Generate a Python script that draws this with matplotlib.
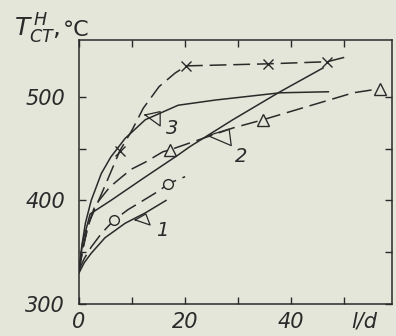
import numpy as np
import matplotlib
matplotlib.use("Agg")
import matplotlib.pyplot as plt

# values (l/d vs wall temperature, deg C)
x_cross = [0, 0.8, 2, 4.8, 7.7, 10, 12.1, 15.1, 18.1, 20.2, 35.7, 46.8, 50.6]
y_cross = [332, 356, 380, 413, 448, 468, 489, 510, 523, 530, 532, 534, 539]
cross_mark_x = [7.7, 20.2, 35.7, 46.8]
cross_mark_y = [448, 530, 532, 534]

x_tri = [0, 1.5, 3, 5.8, 7.9, 9.8, 12.5, 15.8, 17.2, 29, 34.7, 51.7, 56.8]
y_tri = [333, 372, 395, 413, 422, 430, 437, 447, 449, 470, 478, 504, 508]
tri_mark_x = [17.2, 34.7, 56.8]
tri_mark_y = [449, 478, 508]

x_circ = [0, 1, 2.3, 4.2, 6.6, 9.2, 12.1, 15.3, 16.7, 20]
y_circ = [333, 344, 355, 368, 381, 391, 400, 410, 416, 423]
circ_mark_x = [6.6, 16.7]
circ_mark_y = [381, 416]

# solid curves 1, 2, 3
x_c1 = [0, 1, 2.3, 4.9, 8.7, 12.5, 16.4]
y_c1 = [330, 340, 349, 364, 378, 388, 400]

x_c2 = [0, 0.7, 2.1, 6, 12, 18.7, 20.9, 29, 37.9, 46]
y_c2 = [332, 360, 387, 400, 421, 444, 452, 478, 505, 528]

x_c3 = [0, 0.5, 1.2, 2.3, 4.2, 6, 8.7, 12.5, 18.7, 25.7, 37.9, 47]
y_c3 = [332, 355, 378, 400, 426, 442, 460, 478, 492, 497, 504, 505]

# curve labels and their little wedge pointers
labels = ["1", "2", "3"]
label_x = [15.6, 30.6, 17.5]
label_y = [371, 442, 469.6]
wedges = [
    [(10.6, 381.2), (12.6, 387), (13.4, 376.3)],
    [(24.3, 462.6), (28.3, 469), (28.7, 453)],
    [(12.45, 482.6), (15.3, 485.8), (15.3, 472)],
]

xticks = [0, 10, 20, 30, 40, 50]
xticklabels = ["0", "", "20", "", "40", ""]
yticks = [300, 350, 400, 450, 500]
yticklabels = ["300", "", "400", "", "500"]

paper = "#e3e6d9"
ink = "#2a2a2a"

plt.rcParams["mathtext.fontset"] = "dejavusans"

fig = plt.figure(figsize=(3.96, 3.36), dpi=100, facecolor=paper)
ax = fig.add_axes([79 / 396, 1 - 304 / 336, 313 / 396, 264 / 336])
ax.set_facecolor(paper)

dash = (0, (11, 4.5))
lw = 1.1

ax.plot(x_cross, y_cross, color=ink, lw=lw, linestyle=dash)
ax.plot(cross_mark_x, cross_mark_y, "x", color=ink, ms=7, mew=1.0)

ax.plot(x_tri, y_tri, color=ink, lw=lw, linestyle=dash)
ax.plot(tri_mark_x, tri_mark_y, "^", color=ink, ms=8, mew=1.0, mfc=paper)

ax.plot(x_circ, y_circ, color=ink, lw=lw, linestyle=dash)
ax.plot(circ_mark_x, circ_mark_y, "o", color=ink, ms=7, mew=1.0, mfc=paper)

for xs, ys in [(x_c1, y_c1), (x_c2, y_c2), (x_c3, y_c3)]:
    ax.plot(xs, ys, color=ink, lw=lw)

for lab, lx, ly, w in zip(labels, label_x, label_y, wedges):
    wx = [p[0] for p in w] + [w[0][0]]
    wy = [p[1] for p in w] + [w[0][1]]
    ax.plot(wx, wy, color=ink, lw=0.9)
    ax.text(lx, ly, lab, fontsize=14, fontstyle="italic", color=ink,
            ha="center", va="center")

ax.set_xlim(0, 59)
ax.set_ylim(300, 555)
ax.set_xticks(xticks)
ax.set_xticklabels(xticklabels)
ax.set_yticks(yticks)
ax.set_yticklabels(yticklabels)
ax.tick_params(direction="in", top=True, right=True, length=5, width=1.0,
               color=ink, labelcolor=ink, labelsize=15)
ax.tick_params(axis="x", pad=6)
ax.tick_params(axis="y", pad=10)
for lbl in ax.get_xticklabels() + ax.get_yticklabels():
    lbl.set_fontstyle("italic")
for sp in ax.spines.values():
    sp.set_color(ink)
    sp.set_linewidth(1.1)

# axis captions
ax.text(53.8, -0.065, "l/d", transform=ax.get_xaxis_transform(),
        fontsize=15, fontstyle="italic", color=ink, ha="center", va="center")
fig.text(14 / 396, 1 - 37 / 336, r"$T_{CT}^{\,H}$,", fontsize=18,
         color=ink, ha="left", va="baseline")
fig.text(63 / 396, 1 - 36 / 336, "°C", fontsize=16,
         color=ink, ha="left", va="baseline")

fig.savefig("out.png", dpi=100, facecolor=paper)
